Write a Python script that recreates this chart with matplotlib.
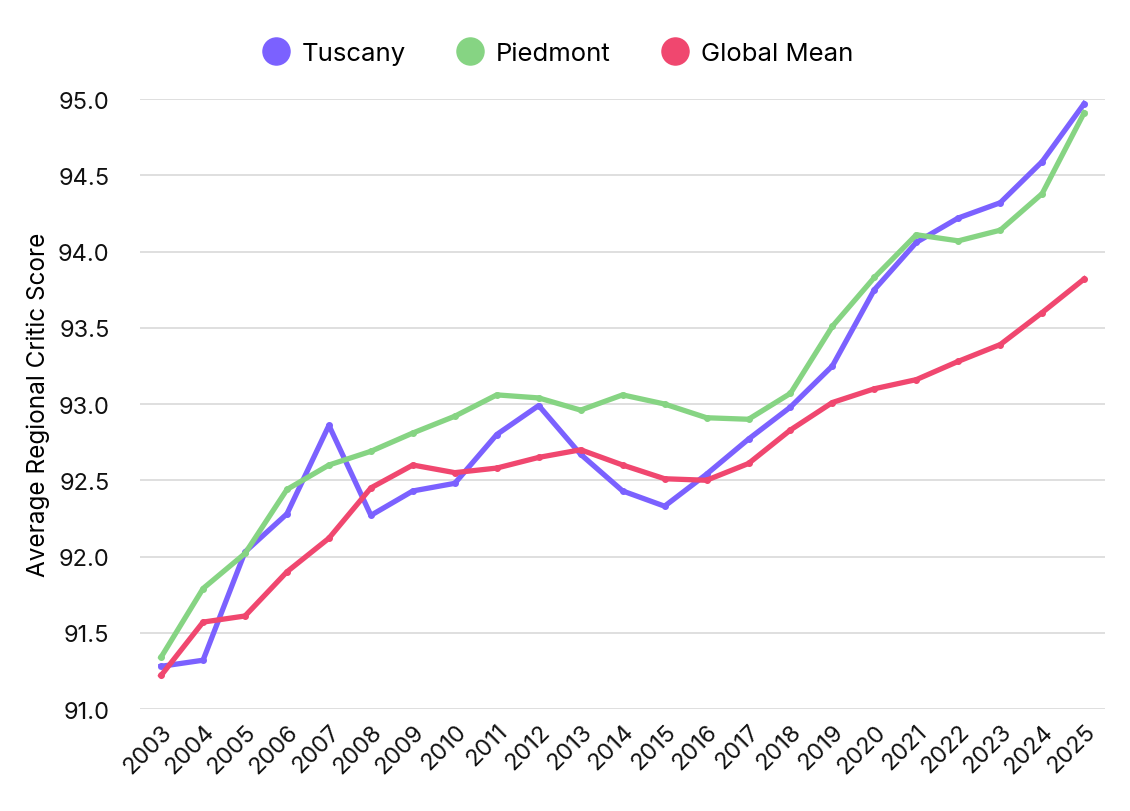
import matplotlib
matplotlib.use("Agg")
import matplotlib.pyplot as plt
from matplotlib.lines import Line2D
from matplotlib.ticker import FormatStrFormatter

years = list(range(2003, 2026))
tuscany = [91.28, 91.32, 92.03, 92.28, 92.86, 92.27, 92.43, 92.48, 92.80, 92.99, 92.67, 92.43,
           92.33, 92.54, 92.77, 92.98, 93.25, 93.75, 94.06, 94.22, 94.32, 94.59, 94.97]
piedmont = [91.34, 91.79, 92.02, 92.44, 92.60, 92.69, 92.81, 92.92, 93.06, 93.04, 92.96, 93.06,
            93.00, 92.91, 92.90, 93.07, 93.51, 93.83, 94.11, 94.07, 94.14, 94.38, 94.91]
global_mean = [91.22, 91.57, 91.61, 91.90, 92.12, 92.45, 92.60, 92.55, 92.58, 92.65, 92.70, 92.60,
               92.51, 92.50, 92.61, 92.83, 93.01, 93.10, 93.16, 93.28, 93.39, 93.60, 93.82]

series = [("Tuscany", tuscany, "#7B61FF"),
          ("Piedmont", piedmont, "#86D483"),
          ("Global Mean", global_mean, "#F0476F")]

plt.rcParams['font.family'] = ['Inter', 'DejaVu Sans']

fig = plt.figure(figsize=(11.3, 8.12), dpi=100)
ax = fig.add_axes([0.124, 0.1256, 0.854, 0.7512])

x = list(range(len(years)))
handles = []
for name, vals, col in series:
    ax.plot(x, vals, color=col, lw=3.8, marker='o', ms=4, solid_joinstyle='round', zorder=3)
    handles.append(Line2D([], [], ls='none', marker='o', ms=19.5, color=col, label=name))

ax.set_xlim(-0.5, len(years) - 0.5)
ax.set_ylim(91.0, 95.0)
ax.set_yticks([91.0, 91.5, 92.0, 92.5, 93.0, 93.5, 94.0, 94.5, 95.0])
ax.yaxis.set_major_formatter(FormatStrFormatter('%.1f'))
ax.set_xticks(x)
ax.set_xticklabels([str(y) for y in years], rotation=45, ha='right', rotation_mode='anchor')
ax.tick_params(axis='both', length=0, labelsize=17, colors='#111111')
ax.tick_params(axis='y', pad=22)
ax.tick_params(axis='x', pad=8)
ax.grid(axis='y', color='#d9d9d9', lw=1.2)
ax.set_axisbelow(True)
for s in ax.spines.values():
    s.set_visible(False)
ax.set_ylabel("Average Regional Critic Score", fontsize=17.5, labelpad=6)

fig.legend(handles=handles, loc='upper center', bbox_to_anchor=(0.494, 0.975), ncol=3,
           frameon=False, fontsize=18.5, handlelength=1.0, handletextpad=0.5,
           columnspacing=2.0)

fig.savefig("out.png", dpi=100)
